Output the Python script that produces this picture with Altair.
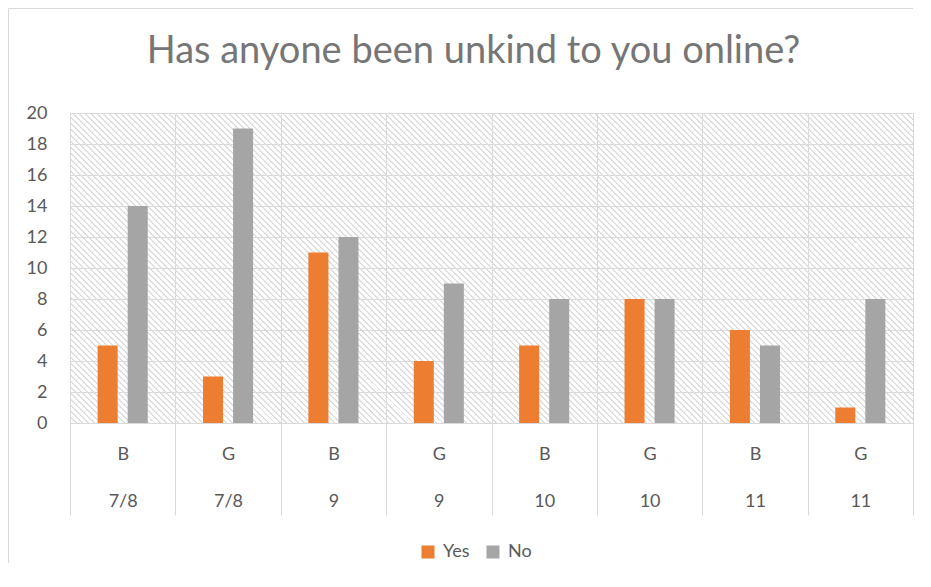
import altair as alt
import pandas as pd
import math

# ---- data ----
genders = ["B", "G", "B", "G", "B", "G", "B", "G"]
grades = ["7/8", "7/8", "9", "9", "10", "10", "11", "11"]
yes_vals = [5, 3, 11, 4, 5, 8, 6, 1]
no_vals = [14, 19, 12, 9, 8, 8, 5, 8]
series = ["Yes", "No"]
colors = ["#ED7D31", "#A5A5A5"]
y_ticks = list(range(0, 21, 2))

cats = [f"{g}|{gr}" for g, gr in zip(genders, grades)]
rows = []
for c, yv, nv in zip(cats, yes_vals, no_vals):
    rows.append({"cat": c, "series": "Yes", "value": yv})
    rows.append({"cat": c, "series": "No", "value": nv})
df = pd.DataFrame(rows)

# ---- layout ----
W, H = 843, 310
PAD = {"left": 62, "top": 105, "right": 10, "bottom": 150}
FONT = "Lato"
TEXT = "#595959"
GRID = "#d9d9d9"

# diagonal hatch as a hard-stop linear gradient (objectBoundingBox units)
k = (W + H) / (W * W + H * H)
x2g, y2g = W * k, 1 - H * k
L = (W + H) / math.sqrt(2)
period = (6 / math.sqrt(2)) / L
frac = 0.3
HATCH = "#dedede"
stops = []
i = 0
while i * period < 1:
    a = i * period
    b = min(a + frac * period, 1)
    c = min((i + 1) * period, 1)
    stops += [
        {"offset": a, "color": HATCH},
        {"offset": b, "color": HATCH},
        {"offset": b, "color": "rgba(255,255,255,0)"},
        {"offset": c, "color": "rgba(255,255,255,0)"},
    ]
    i += 1
hatch_fill = alt.LinearGradient(
    gradient="linear", x1=0, y1=1, x2=x2g, y2=y2g, stops=stops
)

one = alt.Data(values=[{"k": 1}])

hatch = alt.Chart(one).mark_rect(fill=hatch_fill).encode(
    x=alt.value(0), x2=alt.value("width"), y=alt.value(0), y2=alt.value("height")
)

# chart-area border (only its left and top edges fall inside the window)
frame_left = alt.Chart(one).mark_rule(color=GRID, strokeWidth=1).encode(
    x=alt.value(-61.5), y=alt.value(-104.5), y2=alt.value(H + 140)
)
frame_top = alt.Chart(one).mark_rule(color=GRID, strokeWidth=1).encode(
    x=alt.value(-61.5), x2=alt.value(W), y=alt.value(-104.5)
)

bars = alt.Chart(df).mark_bar().encode(
    x=alt.X(
        "cat:N",
        sort=cats,
        title=None,
        scale=alt.Scale(paddingInner=0, paddingOuter=0),
        axis=alt.Axis(
            labelExpr="isValid(datum.value) ? split(datum.value, '|') : ''",
            labelAngle=0,
            labelFont=FONT,
            labelFontSize=18,
            labelColor=TEXT,
            labelLineHeight=47,
            labelBaseline="top",
            labelPadding=-70,
            tickBand="extent",
            tickSize=92,
            tickColor=GRID,
            tickWidth=1,
            domain=False,
            grid=True,
            gridColor=GRID,
        ),
    ),
    xOffset=alt.XOffset(
        "series:N",
        sort=series,
        scale=alt.Scale(paddingInner=1 / 3, paddingOuter=0.92),
    ),
    y=alt.Y(
        "value:Q",
        title=None,
        scale=alt.Scale(domain=[0, 20], nice=False),
        axis=alt.Axis(
            values=y_ticks,
            labelFont=FONT,
            labelFontSize=18,
            labelColor=TEXT,
            labelPadding=23,
            ticks=False,
            domain=False,
            grid=True,
            gridColor=GRID,
        ),
    ),
    color=alt.Color(
        "series:N",
        sort=series,
        scale=alt.Scale(domain=series, range=colors),
        legend=alt.Legend(
            title=None,
            orient="none",
            direction="horizontal",
            legendX=349,
            legendY=430,
            symbolType="square",
            symbolSize=169,
            symbolStrokeWidth=0,
            labelFont=FONT,
            labelFontSize=18,
            labelColor=TEXT,
            columnPadding=14,
            labelOffset=6,
        ),
    ),
)

chart = alt.layer(frame_left, frame_top, hatch, bars).properties(
    width=W,
    height=H,
    title=alt.TitleParams(
        "Has anyone been unkind to you online?",
        font=FONT,
        fontSize=38,
        fontWeight="normal",
        color="#767676",
        anchor="middle",
        baseline="alphabetic",
        dx=-18,
        dy=93,
        offset=0,
    ),
    autosize=alt.AutoSizeParams(type="none"),
    padding=PAD,
    background="white",
).configure_view(stroke=GRID, strokeWidth=1)

chart.save("out.html", embed_options={"renderer": "svg", "actions": False})
